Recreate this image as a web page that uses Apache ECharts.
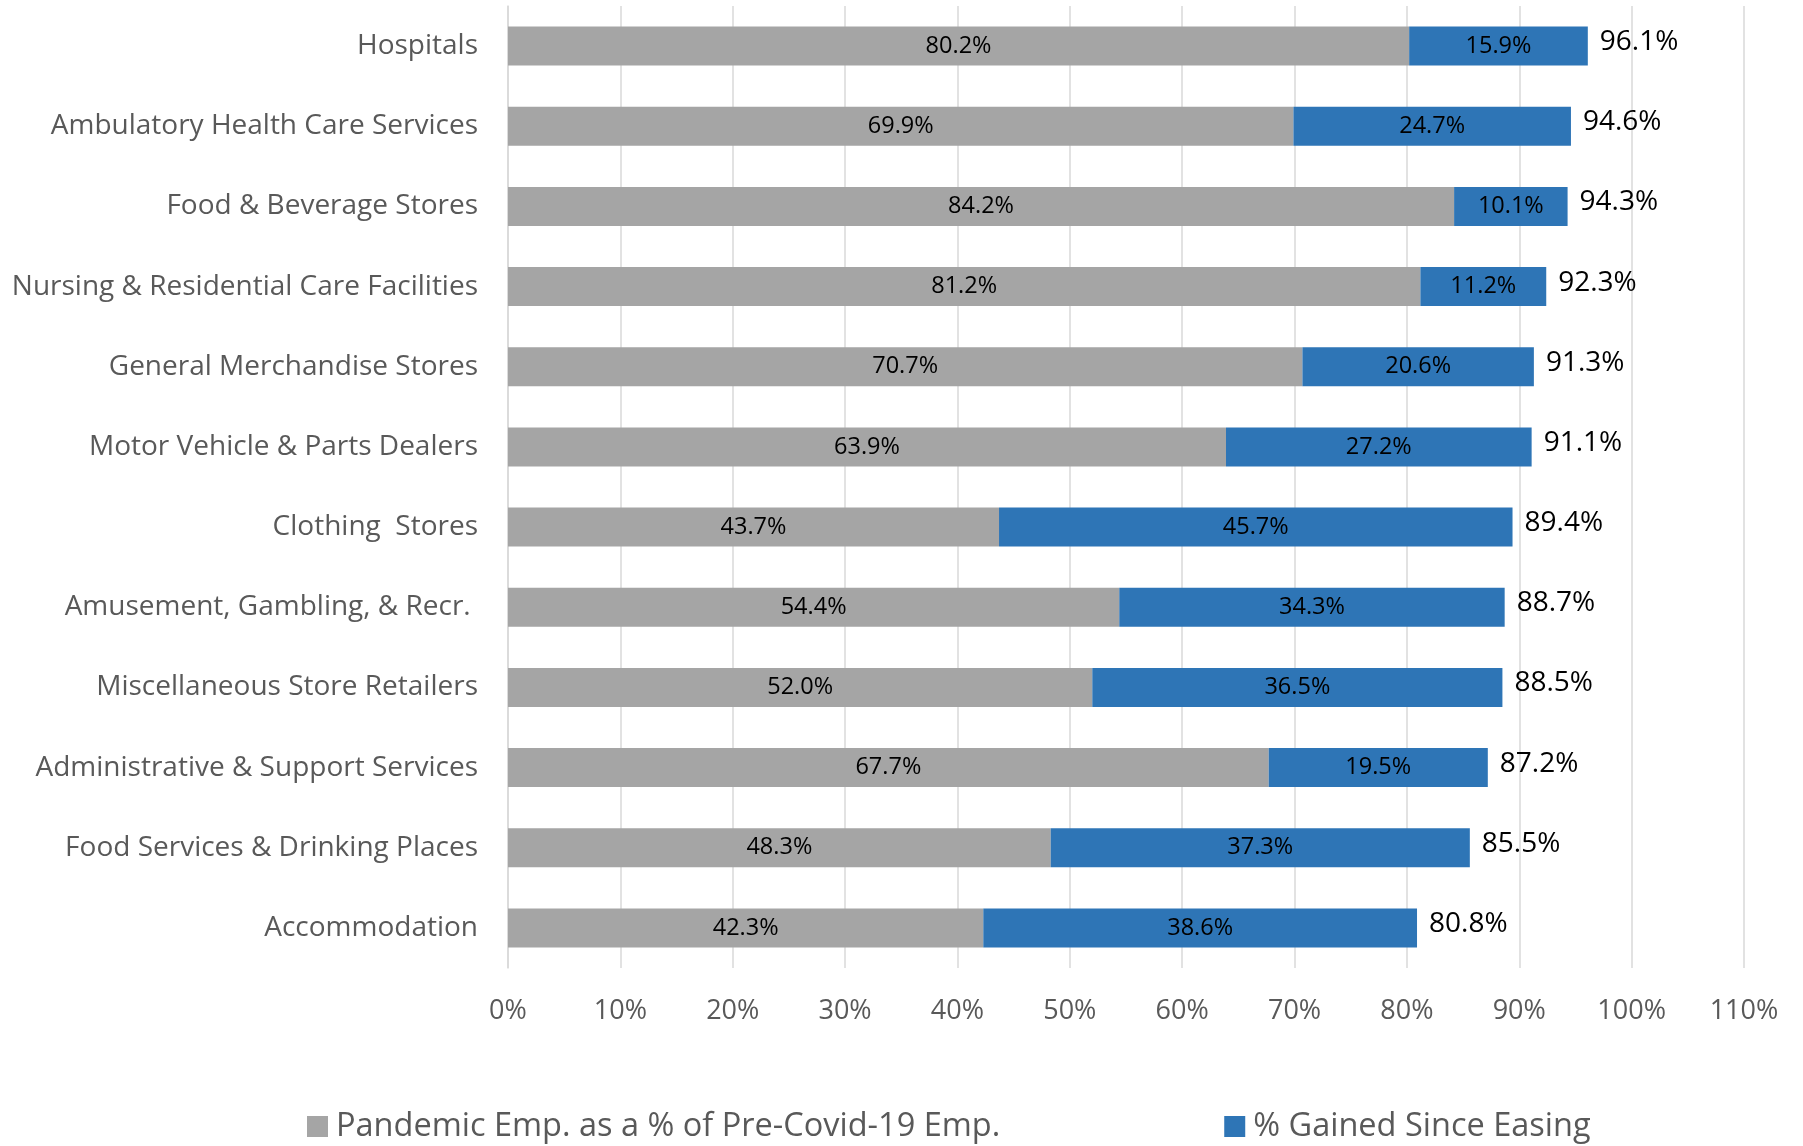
<!DOCTYPE html>
<html>
<head>
<meta charset="utf-8">
<script src="https://cdn.jsdelivr.net/npm/echarts@6/dist/echarts.min.js"></script>
<style>
html,body{margin:0;padding:0;background:#fff;}
#c{width:1803px;height:1146px;}
</style>
</head>
<body>
<div id="c"></div>
<script>
const categories = [
  "Hospitals",
  "Ambulatory Health Care Services",
  "Food & Beverage Stores",
  "Nursing & Residential Care Facilities",
  "General Merchandise Stores",
  "Motor Vehicle & Parts Dealers",
  "Clothing  Stores",
  "Amusement, Gambling, & Recr. ",
  "Miscellaneous Store Retailers",
  "Administrative & Support Services",
  "Food Services & Drinking Places",
  "Accommodation"
];
const pandemicEmp = [80.2, 69.9, 84.2, 81.2, 70.7, 63.9, 43.7, 54.4, 52.0, 67.7, 48.3, 42.3];
const gainedSinceEasing = [15.9, 24.7, 10.1, 11.2, 20.6, 27.2, 45.7, 34.3, 36.5, 19.5, 37.3, 38.6];
const totals = [96.1, 94.6, 94.3, 92.3, 91.3, 91.1, 89.4, 88.7, 88.5, 87.2, 85.5, 80.8];
const seriesNames = ["Pandemic Emp. as a % of Pre-Covid-19 Emp.", "% Gained Since Easing"];
const xTicks = {min: 0, max: 110, interval: 10};

const FONT = "Open Sans";
const chart = echarts.init(document.getElementById('c'), null, {renderer: 'canvas'});
chart.setOption({
  animation: false,
  backgroundColor: '#ffffff',
  textStyle: {fontFamily: FONT},
  grid: {left: 508, right: 59, top: 6, bottom: 178, containLabel: false},
  xAxis: {
    type: 'value',
    min: xTicks.min, max: xTicks.max, interval: xTicks.interval,
    axisLine: {show: false},
    axisTick: {show: false},
    splitLine: {show: true, lineStyle: {color: '#D9D9D9', width: 1.5}},
    axisLabel: {formatter: '{value}%', color: '#595959', fontSize: 27, fontFamily: FONT, margin: 30}
  },
  yAxis: {
    type: 'category',
    inverse: true,
    data: categories,
    axisLine: {show: true, lineStyle: {color: '#D9D9D9', width: 1.5}},
    axisTick: {show: false},
    axisLabel: {color: '#595959', fontSize: 28, fontFamily: FONT, margin: 30, padding: [9, 0, 0, 0]}
  },
  legend: {
    bottom: -2,
    left: 302,
    itemWidth: 21,
    itemHeight: 21,
    itemGap: 224,
    icon: 'rect',
    textStyle: {color: '#595959', fontSize: 32.5, fontFamily: FONT, padding: [0, 0, 0, 3]},
    data: seriesNames
  },
  series: [
    {
      name: seriesNames[0],
      type: 'bar',
      stack: 'total',
      barWidth: 39,
      data: pandemicEmp,
      itemStyle: {color: '#A5A5A5'},
      label: {show: true, position: 'inside', color: '#000000', fontSize: 23.5, fontFamily: FONT,
        formatter: p => p.value.toFixed(1) + '%'}
    },
    {
      name: seriesNames[1],
      type: 'bar',
      stack: 'total',
      barWidth: 39,
      data: gainedSinceEasing,
      itemStyle: {color: '#2E75B6'},
      label: {show: true, position: 'inside', color: '#000000', fontSize: 23.5, fontFamily: FONT,
        formatter: p => p.value.toFixed(1) + '%'}
    },
    {
      name: 'Total',
      type: 'bar',
      stack: 'total',
      barWidth: 39,
      data: totals.map(() => 0),
      itemStyle: {color: 'rgba(0,0,0,0)'},
      tooltip: {show: false},
      label: {show: true, position: 'right', distance: 12, offset: [0, -4], color: '#000000', fontSize: 28, fontFamily: FONT,
        formatter: p => totals[p.dataIndex].toFixed(1) + '%'}
    }
  ]
});
</script>
</body>
</html>
